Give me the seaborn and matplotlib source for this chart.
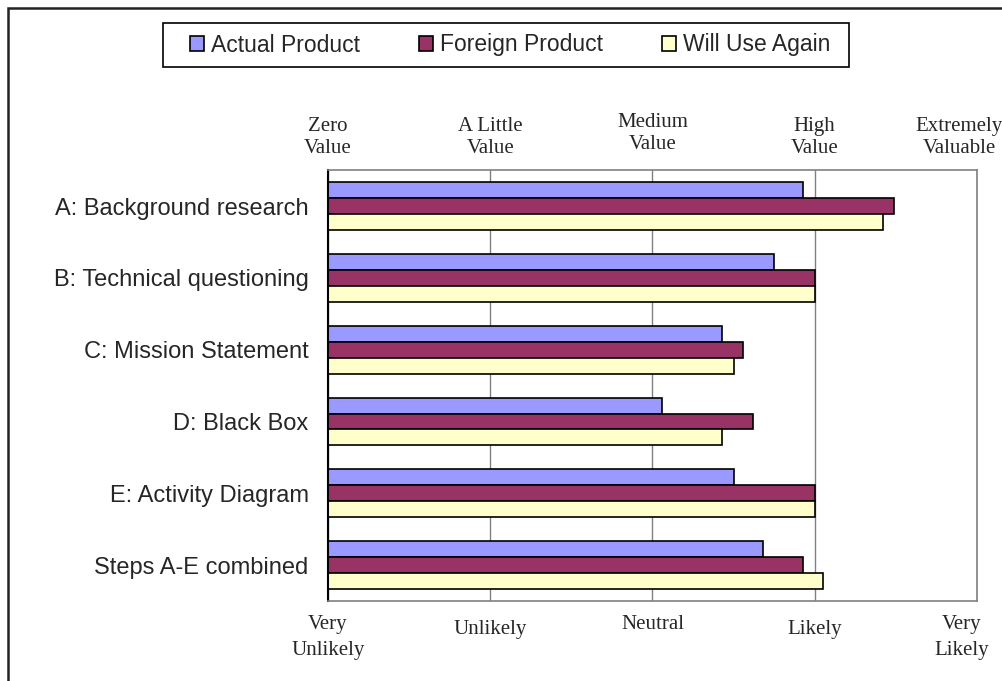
import pandas as pd
import seaborn as sns
import matplotlib.pyplot as plt
from matplotlib.patches import Rectangle
from matplotlib.transforms import ScaledTranslation

# Chart data (1 = lowest, 5 = highest rating)
steps = ["A: Background research", "B: Technical questioning", "C: Mission Statement",
         "D: Black Box", "E: Activity Diagram", "Steps A-E combined"]
series = ["Actual Product", "Foreign Product", "Will Use Again"]
actual = [3.93, 3.75, 3.43, 3.06, 3.50, 3.68]
foreign = [4.49, 4.00, 3.56, 3.62, 4.00, 3.93]
use_again = [4.42, 4.00, 3.50, 3.43, 4.00, 4.05]
colors = ["#9999FF", "#993366", "#FFFFCC"]

value_ticks = [1, 2, 3, 4, 5]
value_labels = ["Zero\nValue", "A Little\nValue", "Medium\nValue", "High\nValue",
                "Extremely\nValuable"]
likely_labels = ["Very\nUnlikely", "Unlikely", "Neutral", "Likely", "Very\nLikely"]

df = pd.DataFrame({
    "step": steps * 3,
    "series": [s for s in series for _ in steps],
    "score": actual + foreign + use_again,
})

sns.set_style("white")
plt.rcParams["font.family"] = ["Liberation Sans", "DejaVu Sans"]

fig = plt.figure(figsize=(10.03, 6.81), dpi=100)
ax = fig.add_axes([0.327, 0.1175, 0.647, 0.6325])

sns.barplot(data=df, y="step", x="score", hue="series", hue_order=series,
            palette=colors, orient="h", width=0.667, gap=0, saturation=1,
            edgecolor="black", linewidth=1.2, errorbar=None, ax=ax)

handles, labels = ax.get_legend_handles_labels()
ax.get_legend().remove()

ax.set_xlim(1, 5)
ax.set_ylim(5.5, -0.5)
ax.set_xlabel("")
ax.set_ylabel("")

# vertical gridlines
ax.set_xticks(value_ticks)
ax.grid(axis="x", color="#808080", linewidth=1)
ax.set_axisbelow(True)
for side in ["top", "right", "bottom"]:
    ax.spines[side].set_color("#808080")
    ax.spines[side].set_linewidth(1.2)
ax.spines["left"].set_color("black")
ax.spines["left"].set_linewidth(1.5)

# category ticks between groups
ax.set_yticks([i - 0.5 for i in range(len(steps) + 1)], minor=True)
ax.tick_params(axis="y", which="major", length=0, pad=14, labelsize=17)
ax.tick_params(axis="y", which="minor", length=6, width=1, color="#444444", direction="out")

def nudge(label, dx, dy):
    label.set_transform(label.get_transform() + ScaledTranslation(dx, dy, fig.dpi_scale_trans))

# bottom labels (likelihood)
serif = ["Liberation Serif", "DejaVu Serif"]
ax.set_xticklabels(likely_labels, family=serif, fontsize=15, linespacing=1.5)
ax.tick_params(axis="x", which="both", length=0, pad=10)
lbls = ax.get_xticklabels()
nudge(lbls[1], 0, -0.05)
nudge(lbls[3], 0, -0.05)
nudge(lbls[-1], -0.15, 0)

# top labels (value)
top = ax.secondary_xaxis("top")
top.set_xticks(value_ticks)
top.set_xticklabels(value_labels, family=serif, fontsize=15, linespacing=1.2)
top.tick_params(length=0, pad=9)
top.spines["top"].set_visible(False)
tl = top.get_xticklabels()
nudge(tl[2], 0, 0.04)
nudge(tl[-1], -0.18, 0)

# legend with box
W, H = 1003, 681
fig.patches.append(Rectangle((163 / W, 1 - 67 / H), (849 - 163) / W, 44 / H,
                             transform=fig.transFigure, fill=False,
                             edgecolor="black", linewidth=1.2))
fig.legend(handles, labels, ncol=3, mode="expand", frameon=False,
           bbox_to_anchor=(190 / W, 1 - 62 / H, (830 - 190) / W, 34 / H),
           loc="center", fontsize=16.5, handlelength=0.6, handleheight=0.6,
           handletextpad=0.3, borderpad=0, borderaxespad=0)

# outer chart border
fig.patches.append(Rectangle((8 / W, -0.1), 1.1, 1.1 - 8 / H,
                             transform=fig.transFigure, fill=False,
                             edgecolor="#222222", linewidth=1.8))

fig.savefig("out.png", dpi=100)
